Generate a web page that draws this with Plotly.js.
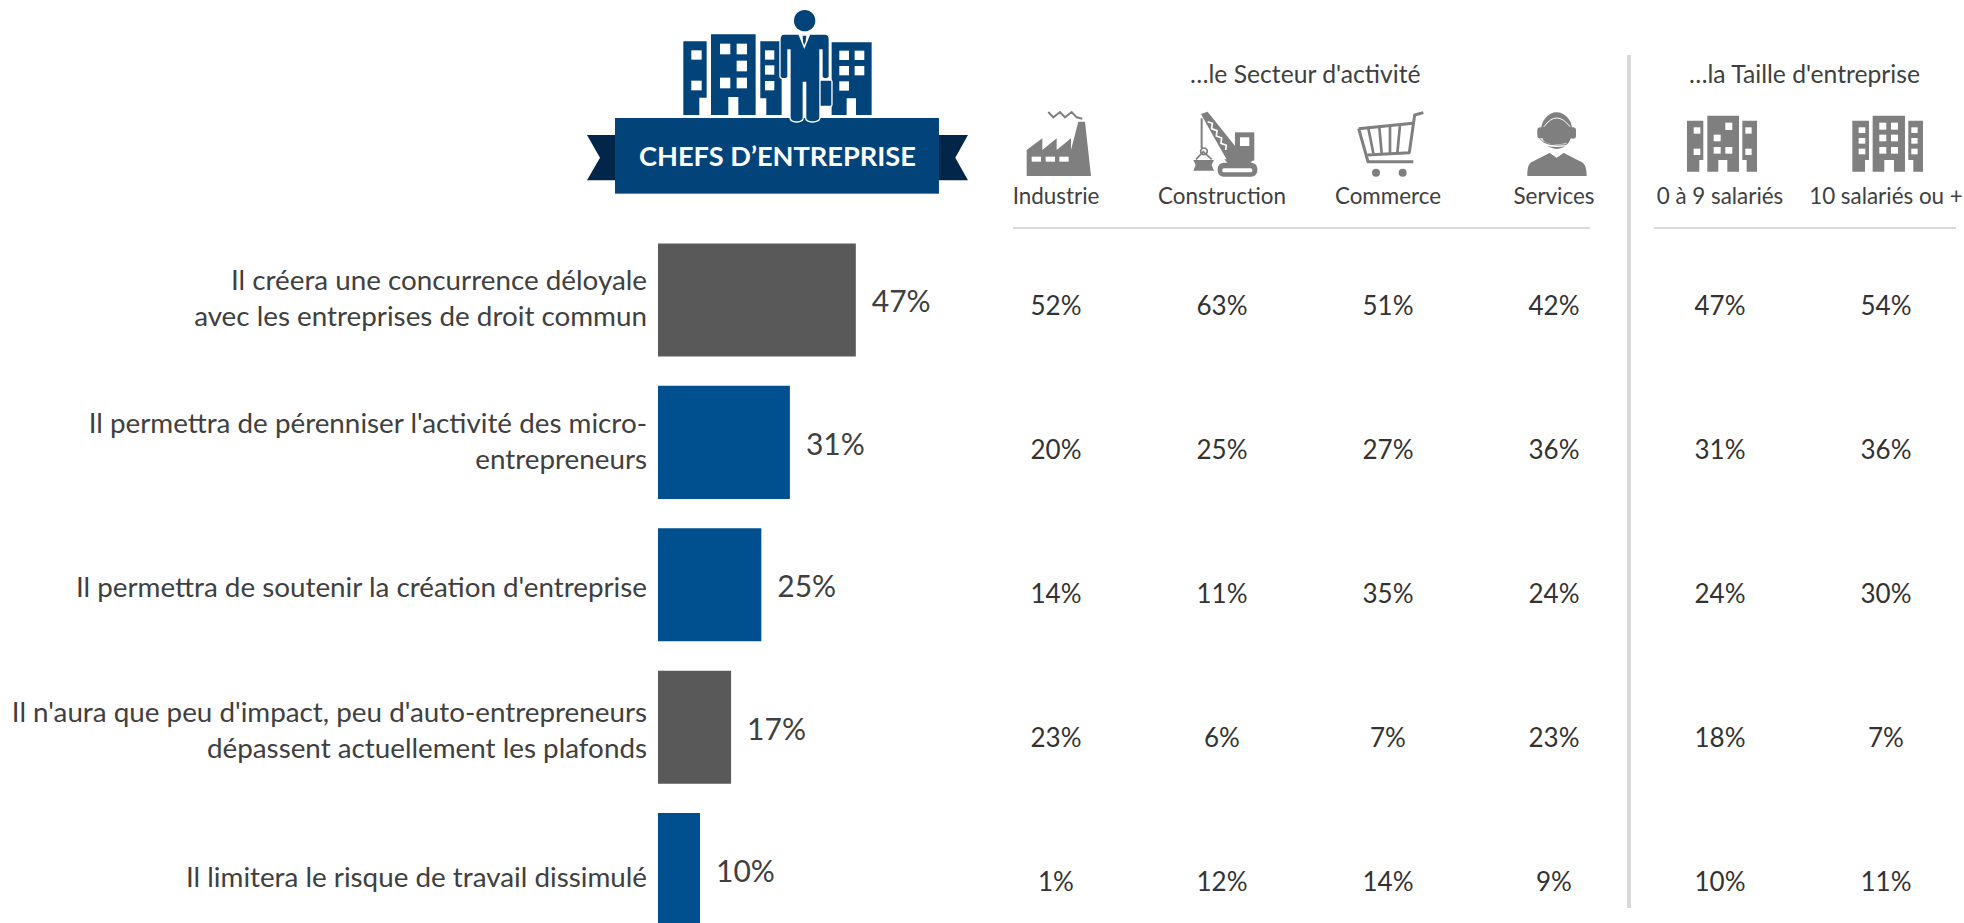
<!DOCTYPE html>
<html><head><meta charset="utf-8">
<script src="https://cdn.plot.ly/plotly-3.0.1.min.js"></script>
<style>html,body{margin:0;padding:0;background:#fff}</style></head>
<body><div id="chart" style="width:1964px;height:923px"></div>
<script>
const categories = [
  "Il créera une concurrence déloyale<br>avec les entreprises de droit commun",
  "Il permettra de pérenniser l'activité des micro-<br>entrepreneurs",
  "Il permettra de soutenir la création d'entreprise",
  "Il n'aura que peu d'impact, peu d'auto-entrepreneurs<br>dépassent actuellement les plafonds",
  "Il limitera le risque de travail dissimulé"
];
const total = [47.1, 31.4, 24.6, 17.4, 10];
const totalLabels = ["47%", "31%", "25%", "17%", "10%"];
const barColors = ["#595959", "#00508f", "#00508f", "#595959", "#00508f"];
const columns = ["Industrie", "Construction", "Commerce", "Services", "0 à 9 salariés", "10 salariés ou +"];
const industrie = [52, 20, 14, 23, 1];
const construction = [63, 25, 11, 6, 12];
const commerce = [51, 27, 35, 7, 14];
const services = [42, 36, 24, 23, 9];
const taille0a9 = [47, 31, 24, 18, 10];
const taille10plus = [54, 36, 30, 7, 11];
const tableSeries = [industrie, construction, commerce, services, taille0a9, taille10plus];

const W = 1964, H = 923, FONT = "Lato, 'Open Sans', sans-serif";
const fx = p => p / W, fy = p => 1 - p / H;
const rows = categories.map((_, i) => i);
const pct = v => v + "%";
const tickNudge = [-0.013, -0.009, 0.018, 0.022, 0.053];

const traces = [
  {type: "bar", orientation: "h", x: total, y: rows, xaxis: "x", yaxis: "y",
   marker: {color: barColors}, hoverinfo: "skip", showlegend: false},
  {type: "scatter", mode: "markers+text", x: total, y: rows, xaxis: "x", yaxis: "y3",
   text: totalLabels, textposition: "middle right",
   textfont: {family: FONT, size: 30, color: "#404040"},
   marker: {size: 24, opacity: 0}, hoverinfo: "skip", showlegend: false}
];
tableSeries.forEach((s, c) => traces.push({
  type: "scatter", mode: "text", x: s.map(() => c), y: rows, xaxis: "x2", yaxis: "y2",
  text: s.map(pct), textposition: "middle center",
  textfont: {family: FONT, size: 26, color: "#333333"},
  hoverinfo: "skip", showlegend: false
}));

// --- pictograms (decoration), drawn in zoom-crop units (3 per pixel)
const bld = (d, wins, f) => `<path d="${d}" fill="${f}"/>` +
  wins.map(w => `<rect x="${w[0]}" y="${w[1]}" width="${w[2]}" height="${w[3]}" fill="#fff"/>`).join("");
const NAVY = "#02437a", GR = "#7f7f7f";
const hero = `<g transform="translate(560,0) scale(.3333)">` +
  bld("M370 124H440V293H418V345H370Z", [[394,151,31,28],[394,242,31,29]], NAVY) +
  bld("M453 103H587V345H535V291H505V345H453Z", [[480,131,31,32],[530,131,31,32],[530,182,31,32],[480,233,31,32],[530,233,31,32]], NAVY) +
  bld("M601 124H665V345H619V295H601Z", [[615,151,28,28],[615,196,28,28],[615,243,28,28]], NAVY) +
  bld("M815 127H935V345H888V295H860V345H815Z", [[838,152,29,28],[884,152,29,28],[838,198,29,28],[884,198,29,28],[838,244,29,28]], NAVY) +
  `</g>`;
const banner = `<g transform="translate(560,0) scale(.3333)">
  <path d="M81 405H170V541H81L120 473Z" fill="#02254a"/>
  <path d="M1224 405H1130V541H1224L1186 473Z" fill="#02254a"/>
  <rect x="165" y="354" width="972" height="227" fill="${NAVY}"/>
  <rect x="778" y="240" width="38" height="79" rx="5" fill="${NAVY}" stroke="#fff" stroke-width="4"/>
  <path d="M672 102H795Q808 102 808 118V228Q808 236 797 236Q786 236 786 228V150H780V352Q780 366 757 366Q737 366 737 352V247H730V352Q730 366 710 366Q690 366 690 352V150H684V228Q684 236 672 236Q660 236 660 228V118Q660 102 672 102Z" fill="${NAVY}" stroke="#fff" stroke-width="4"/>
  <path d="M715 103H751L733 147Z" fill="#fff"/><path d="M728 107H739L737 125L733 136L729 125Z" fill="${NAVY}"/>
  <circle cx="734" cy="62" r="32" fill="${NAVY}"/></g>`;
const factory = `<g transform="translate(1015,100) scale(.3333)" fill="${GR}">
  <path d="M35 150L82 115V150L125 115V150L168 115V150L190 65H210L228 228H35Z"/>
  <rect x="50" y="170" width="28" height="15" fill="#fff"/><rect x="92" y="170" width="28" height="15" fill="#fff"/><rect x="133" y="170" width="28" height="15" fill="#fff"/>
  <path d="M100 36L115 52L135 36L150 52L170 36L185 52L202 56" fill="none" stroke="${GR}" stroke-width="6"/></g>`;
const crane = `<g transform="translate(1015,100) scale(.3333)" fill="${GR}">
  <path d="M558 42L578 35L662 140V180H636L590 100Z"/>
  <path d="M578 65L592 70L590 86L606 92L604 108L620 114L618 130L634 136L632 150" fill="none" stroke="#fff" stroke-width="5"/>
  <rect x="660" y="97" width="58" height="85"/><rect x="675" y="112" width="28" height="26" fill="#fff"/>
  <path d="M628 178H715L705 192H640Z"/>
  <rect x="608" y="188" width="119" height="42" rx="18"/><rect x="622" y="205" width="90" height="12" rx="5" fill="#fff"/>
  <path d="M560 55V145" stroke="${GR}" stroke-width="6" fill="none"/>
  <circle cx="567" cy="154" r="10" fill="none" stroke="${GR}" stroke-width="5"/>
  <path d="M543 178L565 155L590 178" fill="none" stroke="${GR}" stroke-width="5"/>
  <path d="M535 180H597L590 195L597 212H535L542 195Z"/></g>`;
const cart = `<g transform="translate(1340,100) scale(.3333)" fill="none" stroke="${GR}" stroke-width="9">
  <path d="M250 38L224 45L208 158L82 165" stroke-linejoin="round"/>
  <path d="M56 86L218 70M56 86L84 185H220"/>
  <path d="M85 85L100 160M118 82L125 160M150 78L150 160M180 75L172 160" stroke-width="8"/>
  <circle cx="108" cy="218" r="12" fill="${GR}" stroke="none"/><circle cx="188" cy="218" r="12" fill="${GR}" stroke="none"/></g>`;
const agent = `<g transform="translate(1340,100) scale(.3333)" fill="${GR}">
  <ellipse cx="650" cy="92" rx="47" ry="55"/>
  <rect x="592" y="82" width="18" height="34" rx="9"/><rect x="690" y="82" width="18" height="34" rx="9"/>
  <path d="M562 228C562 200 566 190 580 184L630 158L650 172L670 158L720 184C734 190 740 200 740 228Z"/>
  <path d="M612 80Q650 28 690 80" fill="none" stroke="#fff" stroke-width="3"/>
  <path d="M600 116Q615 145 680 134" fill="none" stroke="#fff" stroke-width="8"/>
  <path d="M600 116Q615 140 680 134" fill="none" stroke="${GR}" stroke-width="3"/>
  <path d="M630 158L650 172L670 158" fill="none" stroke="#fff" stroke-width="3"/></g>`;
const small = `<g transform="translate(1640,50) scale(.3333)">` +
  bld("M141 212H190V330H178V365H141Z", [[161,232,20,19],[161,296,20,19]], GR) +
  bld("M202 197H297V365H262V330H235V365H202Z", [[256,218,21,22],[221,254,21,20],[221,291,21,20],[256,291,21,20]], GR) +
  bld("M307 212H351V365H320V330H307Z", [[316,232,19,19],[316,296,19,19]], GR) + `</g>`;
const large = `<g transform="translate(1640,50) scale(.3333)">` +
  bld("M637 212H687V330H675V365H637Z", [[656,232,20,17],[656,264,20,17],[656,296,20,17]], GR) +
  bld("M698 197H795V365H762V330H733V365H698Z", [[718,218,21,21],[753,218,21,21],[718,254,21,20],[753,254,21,20],[718,291,21,20],[753,291,21,20]], GR) +
  bld("M805 212H849V365H820V330H805Z", [[814,232,19,17],[814,264,19,17],[814,296,19,17]], GR) + `</g>`;
const overlay = `<svg xmlns="http://www.w3.org/2000/svg" width="${W}" height="${H}" viewBox="0 0 ${W} ${H}">${hero}${banner}${factory}${crane}${cart}${agent}${small}${large}</svg>`;

const rule = (x0, y0, x1, y1, w) => ({type: "line", xref: "paper", yref: "paper",
  x0: fx(x0), y0: fy(y0), x1: fx(x1), y1: fy(y1), line: {color: "#d9d9d9", width: w}});

const layout = {
  width: W, height: H, margin: {l: 0, r: 0, t: 0, b: 0, pad: 0},
  paper_bgcolor: "#fff", plot_bgcolor: "rgba(0,0,0,0)", showlegend: false, bargap: 0.206,
  font: {family: FONT, color: "#404040"},
  xaxis: {domain: [fx(658), fx(958)], range: [0, 300 / 4.2], visible: false, fixedrange: true},
  yaxis: {domain: [0, fy(228.8)], range: [4.375, -0.5], tickmode: "array",
    tickvals: rows.map((r, i) => r + tickNudge[i]), ticktext: categories,
    ticks: "", showline: false, showgrid: false, zeroline: false, ticklabelstandoff: 10,
    tickfont: {family: FONT, size: 27.8, color: "#404040"}, automargin: false, fixedrange: true},
  yaxis3: {domain: [0, fy(233.8)], range: [4.34, -0.5], anchor: "x", visible: false, fixedrange: true},
  xaxis2: {domain: [fx(973), 1], range: [-0.5, 5.47], anchor: "y2", side: "top", tickmode: "array",
    tickvals: columns.map((_, i) => i), ticktext: columns, tickangle: 0, ticks: "", showline: false, showgrid: false,
    zeroline: false, ticklabelstandoff: 27, tickfont: {family: FONT, size: 22.4, color: "#404040"}, automargin: false, fixedrange: true},
  yaxis2: {domain: [0, fy(236.5)], range: [4.27, -0.5], anchor: "x2", visible: false, fixedrange: true},
  shapes: [rule(1013, 228, 1590, 228, 2), rule(1654, 228, 1956, 228, 2), rule(1629, 55, 1629, 908, 4)],
  images: [{source: "data:image/svg+xml," + encodeURIComponent(overlay), xref: "paper", yref: "paper",
    x: 0, y: 1, sizex: 1, sizey: 1, xanchor: "left", yanchor: "top", sizing: "stretch", layer: "above"}],
  annotations: [
    {text: "<b>CHEFS D’ENTREPRISE</b>", xref: "paper", yref: "paper", x: fx(777), y: fy(155), xanchor: "center", yanchor: "middle", showarrow: false,
     font: {family: FONT, size: 27.2, color: "#fff"}},
    {text: "…le Secteur d'activité", xref: "paper", yref: "paper", x: fx(1305), y: fy(74), xanchor: "center", yanchor: "middle", showarrow: false,
     font: {family: FONT, size: 24.7, color: "#404040"}},
    {text: "…la Taille d'entreprise", xref: "paper", yref: "paper", x: fx(1804), y: fy(74), xanchor: "center", yanchor: "middle", showarrow: false,
     font: {family: FONT, size: 24.7, color: "#404040"}}
  ]
};
Plotly.newPlot("chart", traces, layout, {displayModeBar: false, staticPlot: true});
</script></body></html>
